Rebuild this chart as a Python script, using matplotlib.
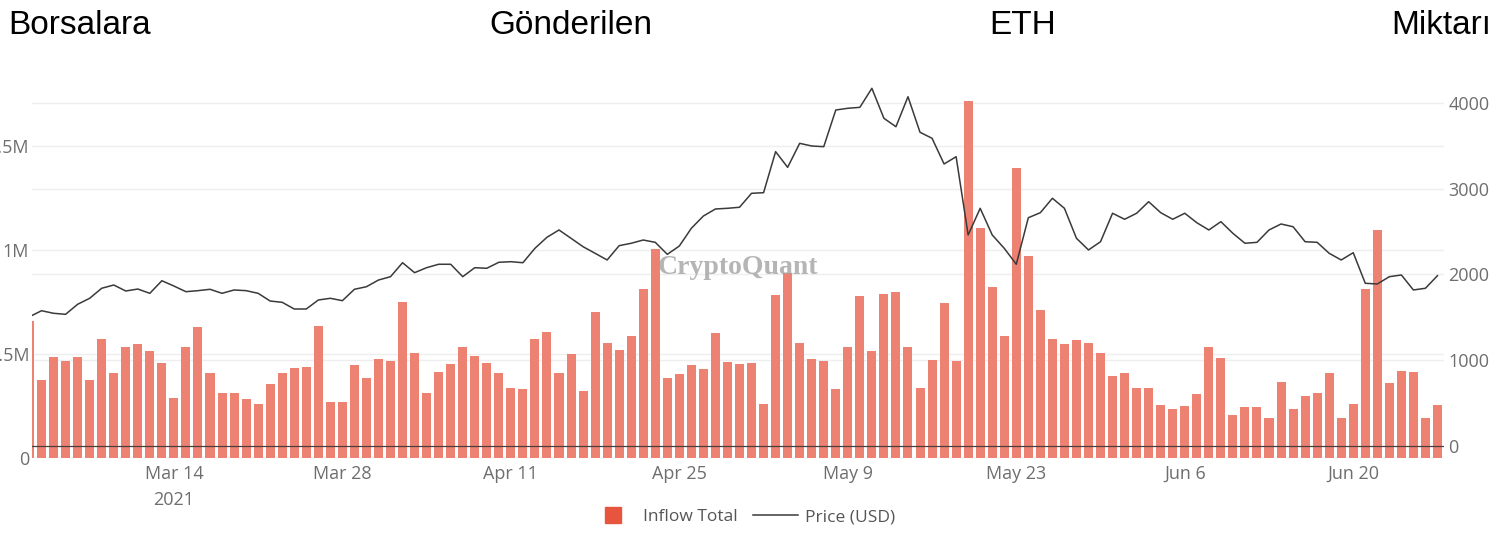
import matplotlib
matplotlib.use("Agg")
import matplotlib.pyplot as plt
from matplotlib.lines import Line2D
from matplotlib.transforms import blended_transform_factory
import pandas as pd

# Step 1: data (daily, 2021-03-02 .. 2021-06-27)
dates = pd.date_range("2021-03-02", periods=118, freq="D")

inflow_m = [
    0.659, 0.374, 0.486, 0.465, 0.486, 0.374, 0.573, 0.409, 0.531, 0.546,
    0.514, 0.454, 0.289, 0.534, 0.629, 0.409, 0.310, 0.310, 0.282, 0.257,
    0.353, 0.409, 0.430, 0.438, 0.634, 0.267, 0.267, 0.445, 0.385, 0.476,
    0.467, 0.751, 0.502, 0.310, 0.414, 0.451, 0.531, 0.489, 0.454, 0.406,
    0.334, 0.331, 0.573, 0.606, 0.409, 0.498, 0.321, 0.703, 0.551, 0.518,
    0.586, 0.810, 1.003, 0.385, 0.401, 0.445, 0.425, 0.599, 0.462, 0.449,
    0.454, 0.258, 0.781, 0.887, 0.553, 0.474, 0.465, 0.331, 0.534, 0.778,
    0.514, 0.786, 0.796, 0.531, 0.334, 0.470, 0.743, 0.465, 1.717, 1.104,
    0.820, 0.587, 1.396, 0.972, 0.711, 0.573, 0.546, 0.566, 0.551, 0.505,
    0.393, 0.409, 0.334, 0.337, 0.254, 0.233, 0.247, 0.307, 0.531, 0.481,
    0.205, 0.245, 0.243, 0.193, 0.363, 0.233, 0.297, 0.310, 0.409, 0.190,
    0.258, 0.812, 1.096, 0.361, 0.417, 0.414, 0.190, 0.252,
]

price_usd = [
    1505, 1575, 1545, 1533, 1650, 1720, 1837, 1875, 1805, 1828,
    1778, 1925, 1863, 1797, 1809, 1825, 1778, 1817, 1809, 1778,
    1688, 1673, 1595, 1595, 1700, 1720, 1692, 1825, 1855, 1933,
    1972, 2135, 2019, 2077, 2117, 2117, 1972, 2077, 2070, 2140,
    2147, 2135, 2303, 2432, 2517, 2420, 2322, 2245, 2167, 2334,
    2362, 2400, 2373, 2233, 2330, 2537, 2680, 2762, 2770, 2782,
    2945, 2952, 3431, 3248, 3528, 3497, 3489, 3917, 3937, 3948,
    4170, 3820, 3722, 4072, 3657, 3587, 3287, 3372, 2459, 2770,
    2459, 2303, 2117, 2660, 2719, 2887, 2770, 2420, 2284, 2380,
    2712, 2642, 2712, 2847, 2719, 2642, 2712, 2602, 2517, 2614,
    2478, 2362, 2373, 2517, 2587, 2555, 2380, 2373, 2245, 2167,
    2252, 1895, 1887, 1972, 1992, 1817, 1837, 1984,
]

x_ticks = ["2021-03-14", "2021-03-28", "2021-04-11", "2021-04-25",
           "2021-05-09", "2021-05-23", "2021-06-06", "2021-06-20"]
x_tick_labels = ["Mar 14\n2021", "Mar 28", "Apr 11", "Apr 25",
                 "May 9", "May 23", "Jun 6", "Jun 20"]
left_ticks = [0, 0.5e6, 1e6, 1.5e6]
left_tick_labels = ["0", "0.5M", "1M", "1.5M"]
right_ticks = [0, 1000, 2000, 3000, 4000]
title_words = ["Borsalara", "Gönderilen", "ETH", "Miktarı"]

# Step 2: figure layout
bar_color = "#ee8272"
swatch_color = "#e8553e"
line_color = "#3a3a3a"
tick_color = "#6e6e6e"
grid_color = "#eeeeee"

fig = plt.figure(figsize=(15.11, 5.37), dpi=100)
ax = fig.add_axes([32 / 1511, 1 - 457.7 / 537, (1444 - 32) / 1511, (457.7 - 80) / 537])
ax2 = ax.twinx()

# Step 3: bars (left axis) and price (right axis)
inflow = [v * 1e6 for v in inflow_m]
ax.bar(dates, inflow, width=0.75, color=bar_color, zorder=2)
ax2.plot(dates, price_usd, color=line_color, linewidth=1.1, zorder=3)
ax2.axhline(0, color="#4a3f3f", linewidth=0.9, zorder=4)

ax.set_ylim(0, 1.818e6)
ax2.set_ylim(-140, 4267)
ax.set_xlim(pd.Timestamp("2021-03-02") + pd.Timedelta(hours=5),
            pd.Timestamp("2021-06-27") + pd.Timedelta(hours=13))

# grid lines for both axes, kept behind the bars
ax.set_axisbelow(True)
ax.yaxis.grid(True, color=grid_color, linewidth=1)
trans = blended_transform_factory(ax.transAxes, ax2.transData)
for t in right_ticks[1:]:
    ax.plot([0, 1], [t, t], transform=trans, color=grid_color, linewidth=1, zorder=0)

ax.set_yticks(left_ticks)
ax.set_yticklabels(left_tick_labels)
ax2.set_yticks(right_ticks)
ax.set_xticks(pd.to_datetime(x_ticks))
ax.set_xticklabels(x_tick_labels, linespacing=1.6)

for a in (ax, ax2):
    for s in a.spines.values():
        s.set_visible(False)
    a.tick_params(length=0, labelsize=13, labelcolor=tick_color)
    for lab in a.get_xticklabels() + a.get_yticklabels():
        lab.set_fontfamily("Open Sans")
ax.tick_params(axis="x", pad=5)
ax.tick_params(axis="y", pad=2)
ax2.tick_params(axis="y", pad=3)
ax2.xaxis.grid(False)
ax2.yaxis.grid(False)

# Step 4: watermark, title, legend
fig.text(738 / 1511, 1 - 268 / 537, "CryptoQuant", family="Liberation Serif",
         fontsize=20, fontweight="bold", color="#a3a3a3", alpha=0.8,
         ha="center", va="center")

title_y = 1 - 34 / 537
fig.text(8 / 1511, title_y, title_words[0], family="Liberation Sans", fontsize=24, ha="left", va="baseline")
fig.text(571 / 1511, title_y, title_words[1], family="Liberation Sans", fontsize=24, ha="center", va="baseline")
fig.text(1023 / 1511, title_y, title_words[2], family="Liberation Sans", fontsize=24, ha="center", va="baseline")
fig.text(1391 / 1511, title_y, title_words[3], family="Liberation Sans", fontsize=24, ha="left", va="baseline")

handles = [
    Line2D([], [], marker="s", linestyle="none", markersize=12, color=swatch_color),
    Line2D([], [], color=line_color, linewidth=1.1),
]
leg = fig.legend(handles, ["Inflow Total", "Price (USD)"], loc="center",
                 bbox_to_anchor=(743 / 1511, 1 - 517 / 537), ncol=2, frameon=False,
                 handlelength=2.6, handletextpad=0.4, columnspacing=0.9,
                 prop={"family": "Open Sans", "size": 12.5}, labelcolor="#555555")

fig.savefig("out.png", dpi=100)
